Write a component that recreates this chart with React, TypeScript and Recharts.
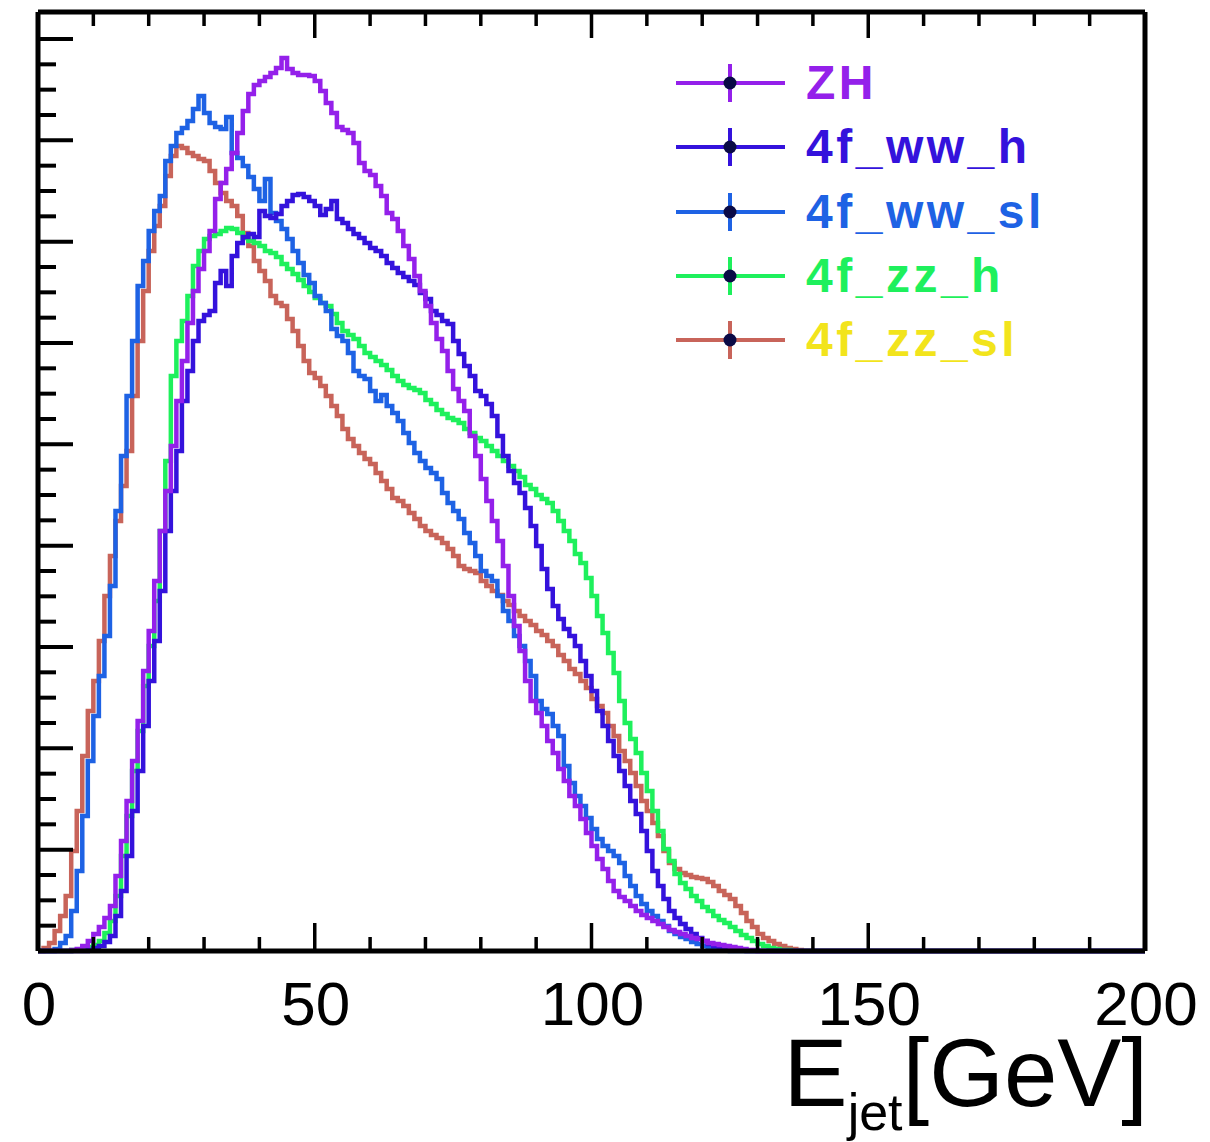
import { LineChart, Line, XAxis, YAxis, Customized } from "recharts"

// jet energy spectra, 1 GeV bins starting at 0 (values = bin heights, arbitrary units)
const zhValues = [
  0, 0, 0, 0, 0, 0, 1, 2, 5, 10,
  17, 24, 33, 45, 75, 110, 150, 190, 230, 280,
  320, 370, 420, 460, 505, 550, 590, 628, 660, 682,
  700, 720, 752, 768, 782, 798, 818, 840, 857, 866,
  870, 874, 878, 883, 893, 882, 878, 876, 876, 875,
  870, 860, 848, 838, 824, 821, 818, 808, 788, 780,
  776, 765, 755, 738, 732, 720, 705, 692, 675, 660,
  645, 628, 612, 600, 580, 562, 550, 540, 515, 495,
  472, 450, 430, 410, 385, 355, 325, 300, 270, 250,
  238, 225, 210, 198, 182, 170, 155, 145, 132, 118,
  105, 92, 82, 70, 60, 54, 50, 45, 40, 36,
  33, 30, 27, 24, 21, 19, 17, 15, 13, 12,
  10, 8, 7, 6, 5, 4, 3, 2, 1, 1,
]

const wwHValues = [
  0, 0, 0, 0, 0, 0, 0, 0, 0, 1,
  3, 5, 9, 15, 35, 60, 95, 140, 180, 225,
  270, 310, 360, 420, 460, 500, 550, 580, 610, 630,
  636, 640, 668, 680, 665, 695, 708, 714, 717, 714,
  740, 735, 733, 737, 745, 750, 756, 757, 754, 750,
  745, 736, 742, 750, 732, 728, 722, 717, 713, 708,
  703, 700, 695, 688, 683, 678, 674, 670, 666, 658,
  652, 640, 636, 630, 627, 610, 597, 585, 575, 560,
  555, 547, 535, 515, 495, 480, 468, 458, 443, 425,
  405, 382, 362, 345, 332, 322, 315, 305, 290, 275,
  260, 240, 225, 210, 195, 180, 165, 150, 137, 120,
  100, 80, 65, 52, 40, 33, 27, 22, 17, 13,
  10, 7, 5, 4, 3, 2, 1, 1,
]

const wwSlValues = [
  0, 0, 0, 2, 8, 15, 40, 80, 135, 190,
  235, 275, 315, 365, 440, 495, 555, 610, 665, 690,
  720, 740, 755, 790, 805, 818, 823, 830, 842, 855,
  838, 828, 824, 822, 834, 798, 793, 785, 774, 762,
  750, 772, 738, 730, 722, 712, 700, 688, 676, 668,
  655, 648, 640, 622, 615, 610, 598, 580, 575, 572,
  560, 550, 556, 545, 538, 530, 518, 508, 498, 490,
  483, 478, 472, 458, 448, 440, 432, 418, 408, 395,
  380, 375, 370, 355, 340, 330, 315, 305, 290, 275,
  250, 242, 237, 225, 215, 185, 168, 155, 145, 133,
  122, 112, 105, 100, 95, 88, 75, 65, 55, 47,
  40, 35, 30, 25, 20, 17, 14, 12, 9, 7,
  5, 4, 3, 2, 1,
]

const zzHValues = [
  0, 0, 0, 0, 0, 0, 1, 1, 2, 4,
  6, 10, 18, 30, 55, 95, 135, 180, 220, 265,
  305, 350, 420, 490, 575, 610, 630, 655, 685, 700,
  712, 715, 717, 720, 723, 722, 718, 713, 710, 708,
  705, 700, 698, 694, 687, 682, 677, 671, 665, 659,
  653, 648, 645, 637, 628, 620, 616, 612, 605, 598,
  594, 590, 586, 581, 575, 570, 566, 563, 561, 558,
  551, 547, 541, 537, 533, 531, 528, 522, 518, 513,
  510, 505, 500, 495, 490, 485, 480, 474, 466, 462,
  456, 452, 448, 440, 430, 420, 410, 397, 388, 373,
  355, 335, 318, 298, 278, 250, 228, 212, 198, 178,
  160, 140, 120, 102, 90, 77, 68, 62, 55, 50,
  44, 40, 35, 31, 28, 24, 20, 16, 13, 10,
  7, 5, 3, 2, 1, 1,
]

const zzSlValues = [
  0, 3, 8, 20, 35, 55, 100, 140, 195, 240,
  270, 310, 355, 395, 430, 465, 500, 555, 610, 660,
  700, 725, 745, 775, 795, 805, 803, 798, 795, 792,
  790, 780, 768, 758, 750, 745, 735, 718, 705, 690,
  680, 670, 655, 648, 645, 632, 620, 605, 590, 578,
  573, 565, 555, 545, 535, 522, 512, 505, 498, 492,
  487, 478, 470, 462, 453, 450, 445, 438, 432, 425,
  420, 416, 413, 408, 402, 395, 385, 382, 380, 378,
  370, 365, 360, 356, 350, 346, 340, 335, 330, 326,
  320, 316, 310, 305, 296, 290, 282, 277, 270, 263,
  252, 245, 238, 225, 215, 200, 190, 178, 165, 150,
  140, 128, 115, 100, 88, 82, 78, 76, 74, 73,
  72, 69, 65, 60, 56, 52, 45, 38, 30, 24,
  17, 13, 10, 7, 5, 3, 2, 1,
]

const xTicks = [0, 10, 20, 30, 40, 50, 60, 70, 80, 90, 100, 110, 120, 130, 140, 150, 160, 170, 180, 190, 200]
const xTickLabels = [0, 50, 100, 150, 200]
const X_MAX = 200
const Y_MAX = 939
const yTicks = Array.from({ length: 37 }, (_, i) => (i * 912) / 36)

const series = [
  { key: "zh", name: "ZH", values: zhValues, line: "#9420ea", text: "#9420ea" },
  { key: "wwh", name: "4f_ww_h", values: wwHValues, line: "#3412dc", text: "#3412dc" },
  { key: "wwsl", name: "4f_ww_sl", values: wwSlValues, line: "#1e62e4", text: "#1e62e4" },
  { key: "zzh", name: "4f_zz_h", values: zzHValues, line: "#1ef05c", text: "#1ef05c" },
  { key: "zzsl", name: "4f_zz_sl", values: zzSlValues, line: "#c8645a", text: "#f2e41c" },
]

const W = 1210
const H = 1142
const PLOT_LEFT = 38
const PLOT_RIGHT = 1145
const PLOT_TOP = 12
const PLOT_BOTTOM = 951
// axes need a non-zero size or recharts skips them
const AX = 2
const FONT = '"Liberation Sans", Arial, Helvetica, sans-serif'

const data = Array.from({ length: X_MAX + 1 }, (_, e) => {
  const row: Record<string, number> = { e }
  series.forEach((s) => {
    row[s.key] = s.values[e] ?? 0
  })
  return row
})

function BottomTick(props: any) {
  const { x, payload } = props
  const v = payload.value
  const major = v % 50 === 0
  return (
    <g>
      <line x1={x} x2={x} y1={PLOT_BOTTOM} y2={PLOT_BOTTOM - (major ? 28 : 14)} stroke="#000" strokeWidth={3.5} />
      {xTickLabels.includes(v) && (
        <text x={x + 1} y={PLOT_BOTTOM + 74} textAnchor="middle" fontSize={62} fontFamily={FONT} fill="#000">
          {v}
        </text>
      )}
    </g>
  )
}

function TopTick(props: any) {
  const { x, payload } = props
  const major = payload.value % 50 === 0
  return <line x1={x} x2={x} y1={PLOT_TOP} y2={PLOT_TOP + (major ? 26 : 14)} stroke="#000" strokeWidth={3.5} />
}

function LeftTick(props: any) {
  const { y, index } = props
  const major = index % 4 === 0
  return <line x1={PLOT_LEFT} x2={PLOT_LEFT + (major ? 35 : 18)} y1={y} y2={y} stroke="#000" strokeWidth={4} />
}

function RightTick(props: any) {
  const { y, index } = props
  const major = index % 4 === 0
  return <line x1={PLOT_RIGHT} x2={PLOT_RIGHT - (major ? 35 : 18)} y1={y} y2={y} stroke="#000" strokeWidth={4} />
}

function AxisTitle() {
  return (
    <text x={PLOT_RIGHT + 3} y={1106} textAnchor="end" fontFamily={FONT} fontSize={96} fill="#000">
      E
      <tspan fontSize={52} dy={24}>jet</tspan>
      <tspan fontSize={96} dy={-24}>[GeV]</tspan>
    </text>
  )
}

function LegendBox() {
  return (
    <div style={{ position: "absolute", left: 675, top: 51 }}>
      {series.map((s) => (
        <div key={s.key} style={{ display: "flex", alignItems: "center", height: 64.3 }}>
          <svg width={112} height={44}>
            <line x1={1} x2={110} y1={22} y2={22} stroke={s.line} strokeWidth={4} />
            <line x1={55} x2={55} y1={3} y2={41} stroke={s.line} strokeWidth={4} />
            <circle cx={55} cy={22} r={6.5} fill="#0a0a46" />
          </svg>
          <span
            style={{
              marginLeft: 19,
              fontFamily: FONT,
              fontWeight: "bold",
              fontSize: 48,
              lineHeight: "48px",
              letterSpacing: 3.5,
              color: s.text,
            }}
          >
            {s.name}
          </span>
        </div>
      ))}
    </div>
  )
}

export default function App() {
  const drawOrder = [...series].reverse()
  return (
    <div style={{ position: "absolute", left: 0, top: 0, width: W, height: H, background: "#fff" }}>
      <LineChart
        width={W}
        height={H}
        data={data}
        margin={{ top: PLOT_TOP - AX, left: PLOT_LEFT - AX, right: W - PLOT_RIGHT - AX, bottom: H - PLOT_BOTTOM - AX }}
      >
        <XAxis
          dataKey="e"
          type="number"
          domain={[0, X_MAX]}
          ticks={xTicks}
          interval={0}
          height={AX}
          tickLine={false}
          tick={<BottomTick />}
          axisLine={{ stroke: "#000", strokeWidth: 5 }}
        />
        <XAxis
          xAxisId="top"
          orientation="top"
          dataKey="e"
          type="number"
          domain={[0, X_MAX]}
          ticks={xTicks}
          interval={0}
          height={AX}
          tickLine={false}
          tick={<TopTick />}
          axisLine={{ stroke: "#000", strokeWidth: 5 }}
        />
        <YAxis
          type="number"
          domain={[0, Y_MAX]}
          ticks={yTicks}
          interval={0}
          width={AX}
          tickLine={false}
          tick={<LeftTick />}
          axisLine={{ stroke: "#000", strokeWidth: 5 }}
        />
        <YAxis
          yAxisId="right"
          orientation="right"
          type="number"
          domain={[0, Y_MAX]}
          ticks={yTicks}
          interval={0}
          width={AX}
          tickLine={false}
          tick={<RightTick />}
          axisLine={{ stroke: "#000", strokeWidth: 5 }}
        />
        {drawOrder.map((s) => (
          <Line
            key={s.key}
            dataKey={s.key}
            name={s.name}
            type="stepAfter"
            stroke={s.line}
            strokeWidth={4.5}
            strokeLinejoin="miter"
            dot={false}
            activeDot={false}
            isAnimationActive={false}
          />
        ))}
        <Customized component={AxisTitle} />
      </LineChart>
      <LegendBox />
    </div>
  )
}
